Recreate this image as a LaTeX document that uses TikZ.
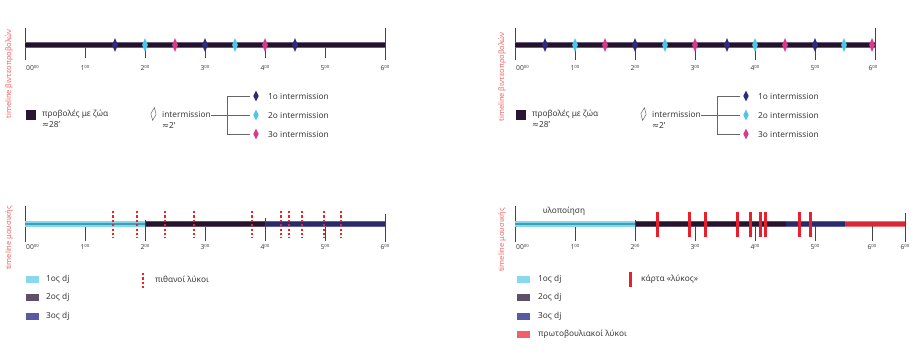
\documentclass[tikz,border=0pt]{standalone}
\usepackage{fontspec}
\setmainfont{Noto Sans}
\newfontfamily\symf{DejaVu Sans}
\usetikzlibrary{shapes.geometric}
\definecolor{txtgray}{HTML}{3A3A3A}
\definecolor{tickgray}{HTML}{444444}
\definecolor{conngray}{HTML}{666666}
\definecolor{sidered}{HTML}{F06464}
\definecolor{mdark}{HTML}{2E2C7C}
\definecolor{mcyan}{HTML}{4EC6E8}
\definecolor{mmag}{HTML}{D83A8C}
\definecolor{barout}{HTML}{6E5E7E}
\definecolor{barin}{HTML}{22122A}
\definecolor{cyout}{HTML}{86D8EE}
\definecolor{cyin}{HTML}{3E9EB6}
\definecolor{dkout}{HTML}{5E4E66}
\definecolor{dkin}{HTML}{26142C}
\definecolor{nvout}{HTML}{5E5EA4}
\definecolor{nvin}{HTML}{2A2A6A}
\definecolor{rdout}{HTML}{F07272}
\definecolor{rdin}{HTML}{D8283A}
\definecolor{wred}{HTML}{EE2222}
\definecolor{cred}{HTML}{E8202E}
\definecolor{lgcyan}{HTML}{8AD8EE}
\definecolor{lgdark}{HTML}{5E5068}
\definecolor{lgnavy}{HTML}{5A5AA0}
\definecolor{lgred}{HTML}{F06068}
\definecolor{sqdark}{HTML}{2A1535}
\newcommand{\tlab}[1]{{\fontsize{6.8}{6.8}\selectfont #1\raisebox{2.5pt}{\fontsize{4.3}{4.3}\selectfont 00}}}
\newcommand{\apx}{{\symf ≈}}
\newcommand{\seg}[6]{\fill[#4] (#1,{#3-3.3}) rectangle (#2,{#3+3.3}); \fill[#5] (#1,{#3-#6}) rectangle (#2,{#3+#6});}
\tikzset{
  txt/.style={font=\fontsize{8.3}{9}\selectfont, text=txtgray, inner sep=0pt, anchor=west},
  side/.style={font=\fontsize{7.5}{8}\selectfont, text=sidered, rotate=90, inner sep=0pt},
  tickline/.style={draw=tickgray, line width=0.8pt},
  ticklab/.style={inner sep=0pt, text=tickgray},
  mk/.style={diamond, minimum width=6pt, minimum height=14pt, inner sep=0pt, draw=none},
  lmk/.style={diamond, minimum width=5.5pt, minimum height=11pt, inner sep=0pt, draw=none},
  wolf/.style={draw=wred, line width=2pt, dash pattern=on 2.2pt off 2.2pt},
  card/.style={draw=cred, line width=3pt},
  conn/.style={draw=conngray, line width=0.6pt},
}
\begin{document}
\begin{tikzpicture}[x=1pt,y=-1pt]
\useasboundingbox (0,0) rectangle (915,360);
\fill[white] (0,0) rectangle (915,360);

% ---------------- side labels ----------------
\node[side] (s1) at (9,74) {timeline βιντεοπροβολών};
\node[side] (s2) at (9,238) {timeline μουσικής};
\node[side] (s3) at (502,77) {timeline βιντεοπροβολών};
\node[side] (s4) at (502,240) {timeline μουσικής};

% ================= TOP LEFT =================
\draw[tickline] (25,28) -- (25,60);
\draw[tickline] (385,28) -- (385,60);
\foreach \x in {85,145,205,265,325} \draw[tickline] (\x,45) -- (\x,58);
\seg{25}{385}{45}{barout}{barin}{2}
\node[ticklab,anchor=west] (tl0) at (26,68) {\tlab{00}};
\foreach \x/\h in {85/1,145/2,205/3,265/4,325/5,385/6}
  \node[ticklab] (tl\h) at (\x,68) {\tlab{\h}};
\foreach \x/\c [count=\i] in {115/mdark,145/mcyan,175/mmag,205/mdark,235/mcyan,265/mmag,295/mdark}
  \node[mk,fill=\c] (ta\i) at (\x,45) {};

% legend top left
\fill[sqdark] (26,110) rectangle (36,120);
\node[txt] (p1) at (42,114) {προβολές με ζώα};
\node[txt] (p2) at (42,125) {\apx28'};
\node[lmk,draw=conngray,line width=0.5pt,minimum height=13pt,rotate=-8] (od1) at (153.5,114) {};
\node[txt] (it1) at (162,114) {intermission};
\node[txt] (iu1) at (162,125) {\apx2'};
\coordinate (bj1) at (227,115);
\node[lmk,fill=mdark] (ld1) at (256,96) {};
\node[lmk,fill=mcyan] (ld2) at (256,115) {};
\node[lmk,fill=mmag] (ld3) at (256,134) {};
\draw[conn] (it1.east |- bj1) -- (bj1);
\draw[conn] (bj1 |- ld1) -- (bj1 |- ld3);
\foreach \i in {1,2,3} \draw[conn,shorten >=3pt] (bj1 |- ld\i) -- (ld\i.west);
\node[txt] (lt1) at (268,96) {1ο intermission};
\node[txt] (lt2) at (268,115) {2ο intermission};
\node[txt] (lt3) at (268,134) {3ο intermission};

% ================= TOP RIGHT =================
\draw[tickline] (515,28) -- (515,60);
\draw[tickline] (875,28) -- (875,60);
\foreach \x in {575,635,695,755,815} \draw[tickline] (\x,45) -- (\x,60);
\seg{515}{875}{45}{barout}{barin}{2}
\node[ticklab,anchor=west] (tr0) at (516,68) {\tlab{00}};
\foreach \x/\h in {575/1,635/2,695/3,755/4,815/5,873/6}
  \node[ticklab] (tr\h) at (\x,68) {\tlab{\h}};
\foreach \x/\c [count=\i] in {545/mdark,575/mcyan,605/mmag,635/mdark,665/mcyan,695/mmag,727/mdark,755/mcyan,785/mmag,815/mdark,844/mcyan,872/mmag}
  \node[mk,fill=\c] (tb\i) at (\x,45) {};

% legend top right
\fill[sqdark] (516,110) rectangle (526,120);
\node[txt] (q1) at (532,114) {προβολές με ζώα};
\node[txt] (q2) at (532,125) {\apx28'};
\node[lmk,draw=conngray,line width=0.5pt,minimum height=13pt,rotate=-8] (od2) at (643.5,114) {};
\node[txt] (it2) at (652,114) {intermission};
\node[txt] (iu2) at (652,125) {\apx2'};
\coordinate (bj2) at (717,115);
\node[lmk,fill=mdark] (le1) at (746,96) {};
\node[lmk,fill=mcyan] (le2) at (746,115) {};
\node[lmk,fill=mmag] (le3) at (746,134) {};
\draw[conn] (it2.east |- bj2) -- (bj2);
\draw[conn] (bj2 |- le1) -- (bj2 |- le3);
\foreach \i in {1,2,3} \draw[conn,shorten >=3pt] (bj2 |- le\i) -- (le\i.west);
\node[txt] (lu1) at (758,96) {1ο intermission};
\node[txt] (lu2) at (758,115) {2ο intermission};
\node[txt] (lu3) at (758,134) {3ο intermission};

% ================= BOTTOM LEFT =================
\draw[tickline] (25,206) -- (25,242);
\draw[tickline] (385,214) -- (385,242);
\foreach \x in {85,145,205,265,325} \draw[tickline] (\x,224) -- (\x,241);
\seg{25}{145}{224}{cyout}{cyin}{1.4}
\seg{145}{265}{224}{dkout}{dkin}{1.6}
\seg{265}{385}{224}{nvout}{nvin}{1.6}
\draw[tickline] (145,220) -- (145,241);
\draw[tickline] (265,218) -- (265,241);
\node[ticklab,anchor=west] (bl0) at (26,247) {\tlab{00}};
\foreach \x/\h in {85/1,145/2,205/3,265/4,325/5,385/6}
  \node[ticklab] (bl\h) at (\x,247) {\tlab{\h}};
\foreach \x in {112.7,137.3,164.7,194.3,252,280.7,288.7,301.7,324,340.7}
  \draw[wolf] (\x,211) -- (\x,237.5);

% legend bottom left
\fill[lgcyan] (26,275.5) rectangle (39,282.5);
\node[txt] (m1) at (46,279) {1ος dj};
\fill[lgdark] (26,294) rectangle (39,301);
\node[txt] (m2) at (46,297.5) {2ος dj};
\fill[lgnavy] (26,312.5) rectangle (39,319.5);
\node[txt] (m3) at (46,316) {3ος dj};
\draw[wolf] (143,273) -- (143,290);
\node[txt] (m4) at (155,279) {πιθανοί λύκοι};

% ================= BOTTOM RIGHT =================
\node[txt,anchor=center] (ul) at (564,211) {υλοποίηση};
\draw[tickline] (515,206) -- (515,242);
\draw[tickline] (905,213) -- (905,242);
\foreach \x in {575,635,695,755,815,872} \draw[tickline] (\x,224) -- (\x,241);
\seg{515}{635}{224}{cyout}{cyin}{1.4}
\seg{635}{786}{224}{dkout}{dkin}{1.6}
\seg{786}{845}{224}{nvout}{nvin}{1.6}
\seg{845}{905}{224}{rdout}{rdin}{1.6}
\draw[tickline] (635,220) -- (635,241);
\draw[tickline] (695,226) -- (695,241);
\draw[tickline] (755,226) -- (755,241);
\draw[tickline] (815,226) -- (815,241);
\draw[tickline] (872,226) -- (872,241);
\node[ticklab,anchor=west] (br0) at (516,247) {\tlab{00}};
\foreach \x/\h in {575/1,635/2,695/3,755/4,815/5,872/6}
  \node[ticklab] (br\h) at (\x,247) {\tlab{\h}};
\node[ticklab] (br7) at (905,247) {\tlab{6}};
\foreach \x in {657.3,689.3,705,737.7,750.3,760,765.3,799,810.7}
  \draw[card] (\x,212) -- (\x,237);

% legend bottom right
\fill[lgcyan] (517,275.5) rectangle (530,282.5);
\node[txt] (n1) at (538,279) {1ος dj};
\fill[lgdark] (517,294) rectangle (530,301);
\node[txt] (n2) at (538,297.5) {2ος dj};
\fill[lgnavy] (517,312.5) rectangle (530,319.5);
\node[txt] (n3) at (538,316) {3ος dj};
\fill[lgred] (517,331) rectangle (530,338);
\node[txt] (n4) at (538,334.5) {πρωτοβουλιακοί λύκοι};
\draw[card] (630,272) -- (630,287);
\node[txt] (n5) at (641,279) {κάρτα «λύκος»};
\end{tikzpicture}
\end{document}
